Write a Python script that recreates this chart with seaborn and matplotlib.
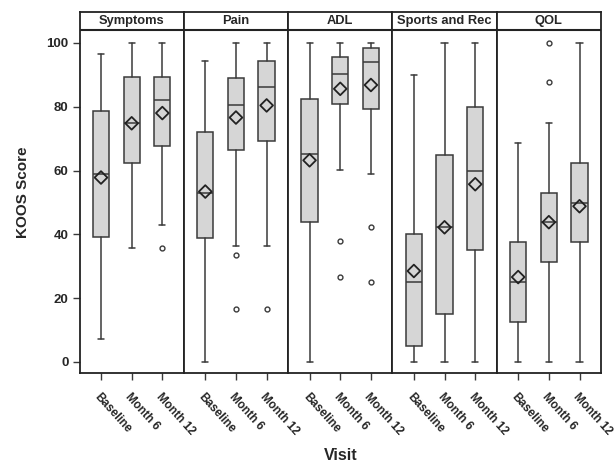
import matplotlib
matplotlib.use("Agg")
import matplotlib.pyplot as plt
import seaborn as sns
import pandas as pd

# ---- data ----
domains = ["Symptoms", "Pain", "ADL", "Sports and Rec", "QOL"]
visits = ["Baseline", "Month 6", "Month 12"]

whislo = {"Symptoms": [7.2, 35.6, 42.8], "Pain": [0, 36.3, 36.3], "ADL": [0, 60.3, 58.8],
          "Sports and Rec": [0, 0, 0], "QOL": [0, 0, 0]}
q1 = {"Symptoms": [39.3, 62.4, 67.7], "Pain": [38.7, 66.5, 69.3], "ADL": [44.0, 80.9, 79.3],
      "Sports and Rec": [5.0, 15.0, 35.0], "QOL": [12.4, 31.2, 37.5]}
med = {"Symptoms": [58.8, 74.8, 82.2], "Pain": [52.9, 80.5, 86.1], "ADL": [65.2, 90.2, 94.0],
       "Sports and Rec": [25.0, 42.2, 60.0], "QOL": [25.0, 43.8, 49.7]}
q3 = {"Symptoms": [78.7, 89.2, 89.2], "Pain": [72.0, 88.9, 94.4], "ADL": [82.4, 95.5, 98.3],
      "Sports and Rec": [40.0, 65.0, 80.0], "QOL": [37.5, 53.1, 62.5]}
whishi = {"Symptoms": [96.6, 100, 100], "Pain": [94.3, 100, 100], "ADL": [100, 100, 100],
          "Sports and Rec": [89.9, 100, 100], "QOL": [68.7, 75.0, 100]}
means = {"Symptoms": [57.8, 74.8, 78.0], "Pain": [53.4, 76.6, 80.4], "ADL": [63.2, 85.6, 86.8],
         "Sports and Rec": [28.5, 42.2, 55.7], "QOL": [26.6, 43.8, 48.8]}
outliers = {"Symptoms": [[], [], [35.6]], "Pain": [[], [33.4, 16.6], [16.6]],
            "ADL": [[], [38.0, 26.5], [42.4, 25.0]], "Sports and Rec": [[], [], []],
            "QOL": [[], [100, 87.6], []]}
yticks = [0, 20, 40, 60, 80, 100]

sns.set_style("white")
plt.rcParams["font.family"] = ["Liberation Sans", "DejaVu Sans"]

fig, axes = plt.subplots(1, 5, figsize=(6.14, 4.65), dpi=100, sharey=True)
fig.subplots_adjust(left=0.1295, right=0.9788, bottom=0.198, top=0.975, wspace=0)

line_col = "#3a3a3a"
fill_col = "#d6d6d6"

for ax, d in zip(axes, domains):
    stats = []
    for i, v in enumerate(visits):
        stats.append(dict(label=v, whislo=whislo[d][i], q1=q1[d][i], med=med[d][i],
                          q3=q3[d][i], whishi=whishi[d][i], fliers=outliers[d][i]))
    ax.bxp(stats, positions=range(3), widths=0.53, patch_artist=True, showfliers=True,
           boxprops=dict(facecolor=fill_col, edgecolor=line_col, linewidth=1.1),
           medianprops=dict(color=line_col, linewidth=1.1),
           whiskerprops=dict(color=line_col, linewidth=1.1),
           capprops=dict(color=line_col, linewidth=1.1),
           capwidths=0.2,
           flierprops=dict(marker="o", markersize=3.5, markerfacecolor="white",
                           markeredgecolor=line_col, markeredgewidth=1.0))
    mdf = pd.DataFrame({"x": list(range(3)), "mean": means[d]})
    sns.scatterplot(data=mdf, x="x", y="mean", ax=ax, marker="D", s=42,
                    facecolor="none", edgecolor="#222222", linewidth=1.3, zorder=5)
    ax.set_xlim(-0.7, 2.7)
    ax.set_ylim(-3.45, 109.8)
    ax.axhline(103.9, color="#222222", linewidth=1.5)
    ax.text(1.0, 106.85, d, ha="center", va="center", fontsize=9.3, fontweight="bold")
    ax.set_xticks(range(3))
    ax.set_xticklabels(visits, rotation=-48, ha="left", va="top", rotation_mode="anchor",
                       fontsize=8.5, fontweight="bold")
    ax.tick_params(axis="x", direction="out", length=5, width=1, color=line_col, pad=8, bottom=True)
    ax.set_xlabel("")
    ax.set_ylabel("")
    for side in ["left", "right", "top", "bottom"]:
        ax.spines[side].set_color("#222222")
        ax.spines[side].set_linewidth(1.3)
        ax.spines[side].set_visible(True)

axes[0].set_yticks(yticks)
axes[0].set_yticklabels([str(t) for t in yticks], fontsize=9.5, fontweight="bold")
axes[0].tick_params(axis="y", direction="out", length=5, width=1, color=line_col, left=True, pad=3)
for ax in axes[1:]:
    ax.tick_params(axis="y", left=False)
axes[0].set_ylabel("KOOS Score", fontsize=11, fontweight="bold", labelpad=12)
fig.text(0.5 * (0.1295 + 0.9788), 0.02, "Visit", ha="center", va="center",
         fontsize=11.5, fontweight="bold")

fig.savefig("out.png", dpi=100)
